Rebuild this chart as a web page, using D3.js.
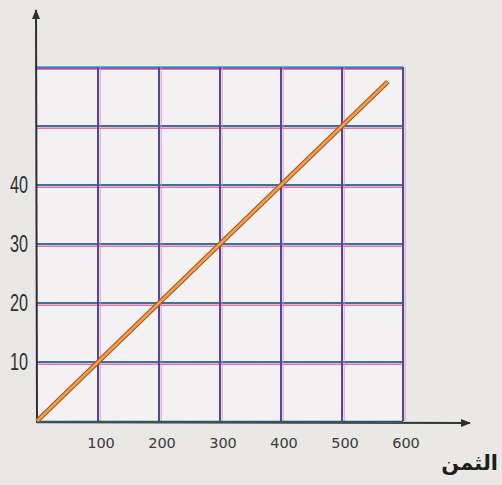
<!DOCTYPE html>
<html>
<head>
<meta charset="utf-8">
<script src="https://cdn.jsdelivr.net/npm/d3@7"></script>
<style>
  html, body { margin: 0; padding: 0; background: #e9e7e3; }
  svg { display: block; }
</style>
</head>
<body>
<svg id="chart" width="502" height="485"></svg>
<script>
// Price (x) against quantity (y): a straight proportional line on a grid
const xTicks = [100, 200, 300, 400, 500, 600];
const yTicks = [10, 20, 30, 40];
const yGrid = [10, 20, 30, 40, 50, 60];
const linePrice = [0, 575];
const lineValue = [0, 57.5];
const xTitle = "الثمن";

const svg = d3.select("#chart");
const x = d3.scaleLinear().domain([0, 600]).range([37, 403]);
const y = d3.scaleLinear().domain([0, 60]).range([421, 67]);

// paper
svg.append("rect").attr("width", 502).attr("height", 485).attr("fill", "#eae8e4");

// grid interior
svg.append("rect")
  .attr("x", x(0)).attr("y", y(60))
  .attr("width", x(600) - x(0)).attr("height", y(0) - y(60))
  .attr("fill", "#f3f1f2");

const g = svg.append("g");

// horizontal grid lines: teal with pink underneath
yGrid.forEach(v => {
  g.append("line").attr("x1", x(0)).attr("x2", x(600))
    .attr("y1", y(v) + 2.2).attr("y2", y(v) + 2.2)
    .attr("stroke", "#e0609c").attr("stroke-width", 1.6).attr("opacity", 0.85);
  g.append("line").attr("x1", x(0)).attr("x2", x(600))
    .attr("y1", y(v)).attr("y2", y(v))
    .attr("stroke", v === 60 ? "#5ab8d8" : "#3f6f9a").attr("stroke-width", 1.8);
});
// top border purple band
g.append("line").attr("x1", x(0)).attr("x2", x(600))
  .attr("y1", y(60) + 1).attr("y2", y(60) + 1)
  .attr("stroke", "#5a4ea8").attr("stroke-width", 1.4);

// vertical grid lines: purple with pink beside
xTicks.forEach(v => {
  g.append("line").attr("x1", x(v) + 2.2).attr("x2", x(v) + 2.2)
    .attr("y1", y(60)).attr("y2", y(0))
    .attr("stroke", "#e48ac0").attr("stroke-width", 1.2).attr("opacity", 0.7);
  g.append("line").attr("x1", x(v)).attr("x2", x(v))
    .attr("y1", y(60)).attr("y2", y(0))
    .attr("stroke", "#50489a").attr("stroke-width", 2);
});

// axes with arrows
svg.append("defs").append("marker")
  .attr("id", "arrow").attr("viewBox", "0 0 10 10")
  .attr("refX", 9).attr("refY", 5)
  .attr("markerWidth", 5).attr("markerHeight", 5)
  .attr("orient", "auto")
  .append("path").attr("d", "M0,1 L10,5 L0,9 Z").attr("fill", "#2e2e34");

svg.append("line")
  .attr("x1", x(0)).attr("y1", y(0) + 1).attr("x2", 36).attr("y2", 10)
  .attr("stroke", "#2e2e34").attr("stroke-width", 2).attr("marker-end", "url(#arrow)");
svg.append("line")
  .attr("x1", x(0) - 1).attr("y1", y(0) + 1).attr("x2", 470).attr("y2", 423)
  .attr("stroke", "#2e3236").attr("stroke-width", 2).attr("marker-end", "url(#arrow)");
svg.append("line")
  .attr("x1", x(0)).attr("y1", y(0) + 1).attr("x2", x(600)).attr("y2", y(0) + 1)
  .attr("stroke", "#2f5660").attr("stroke-width", 2.6);

// proportional line
const line = d3.line().x(d => x(d[0])).y(d => y(d[1]));
const pts = linePrice.map((p, i) => [p, lineValue[i]]);
svg.append("path").attr("d", line(pts))
  .attr("stroke", "#a0502a").attr("stroke-width", 4.6).attr("fill", "none");
svg.append("path").attr("d", line(pts))
  .attr("stroke", "#f0a040").attr("stroke-width", 2.6).attr("fill", "none");

// tick labels
svg.append("g").selectAll("text").data(yTicks).join("text")
  .attr("x", 19).attr("y", d => y(d) + 8)
  .attr("text-anchor", "middle")
  .attr("font-family", "Liberation Sans, Arial, sans-serif")
  .attr("font-size", 23)
  .attr("textLength", 18).attr("lengthAdjust", "spacingAndGlyphs")
  .attr("fill", "#2f2f30")
  .text(d => d);

svg.append("g").selectAll("text").data(xTicks).join("text")
  .attr("x", d => x(d) + 3).attr("y", 448)
  .attr("text-anchor", "middle")
  .attr("font-family", "DejaVu Sans, sans-serif")
  .attr("font-size", 14.5)
  .attr("fill", "#3a3a3a")
  .text(d => d);

// axis title
svg.append("text")
  .attr("x", 498).attr("y", 470)
  .attr("text-anchor", "end")
  .attr("font-family", "DejaVu Sans, Noto Sans, sans-serif")
  .attr("font-weight", "bold")
  .attr("font-size", 21)
  .attr("fill", "#1e1e1e")
  .text(xTitle);
</script>
</body>
</html>
